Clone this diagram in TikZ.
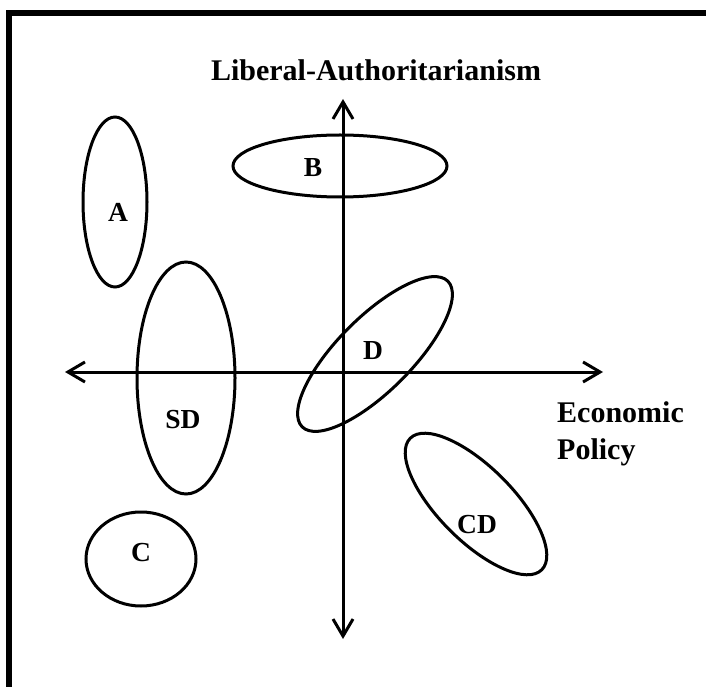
\documentclass[tikz,border=0pt]{standalone}
\usepackage{fontspec}
\setmainfont{Liberation Serif}
\usetikzlibrary{arrows.meta}
\begin{document}
\begin{tikzpicture}[x=1pt,y=1pt,
  ring/.style={line width=3pt},
  axis/.style={line width=3pt,{Straight Barb[length=17pt,width=20pt]}-{Straight Barb[length=17pt,width=20pt]}},
  bigtxt/.style={font=\bfseries\fontsize{30}{36}\selectfont,inner sep=0pt},
  lbl/.style={font=\bfseries\fontsize{27.5}{32}\selectfont,inner sep=0pt}]
\useasboundingbox (0,0) rectangle (706,686);
\clip (0,0) rectangle (706,686);
\fill[white] (0,0) rectangle (706,686);
% frame
\draw[line width=6pt] (9,-20) -- (9,673) -- (730,673);
% axes
\coordinate (vtop) at (343,587);
\coordinate (vbot) at (343,47);
\coordinate (hleft) at (65,314);
\coordinate (hright) at (603,314);
\draw[axis] (vbot) -- (vtop);
\draw[axis] (hleft) -- (hright);
% title and axis label
\node[bigtxt,anchor=base] (title) at (376,605) {Liberal-Authoritarianism};
\node[bigtxt,anchor=base west] (econ) at (557,264) {Economic};
\node[bigtxt,anchor=base west] (policy) at (557,227) {Policy};
% ellipses
\draw[ring] (115,484) ellipse [x radius=32, y radius=85];
\draw[ring] (340,520) ellipse [x radius=107, y radius=31];
\draw[ring] (186,308) ellipse [x radius=49, y radius=116];
\draw[ring] (375,332) ellipse [x radius=103, y radius=37, rotate=45];
\draw[ring] (476,182) ellipse [x radius=93, y radius=37, rotate=-45];
\draw[ring] (141,127) ellipse [x radius=55, y radius=47];
% labels
\node[lbl] (A) at (118,474) {A};
\node[lbl] (B) at (313,518) {B};
\node[lbl] (SD) at (183,266) {SD};
\node[lbl] (D) at (373,335) {D};
\node[lbl] (CD) at (477,161) {CD};
\node[lbl] (C) at (141,133) {C};
\end{tikzpicture}
\end{document}
